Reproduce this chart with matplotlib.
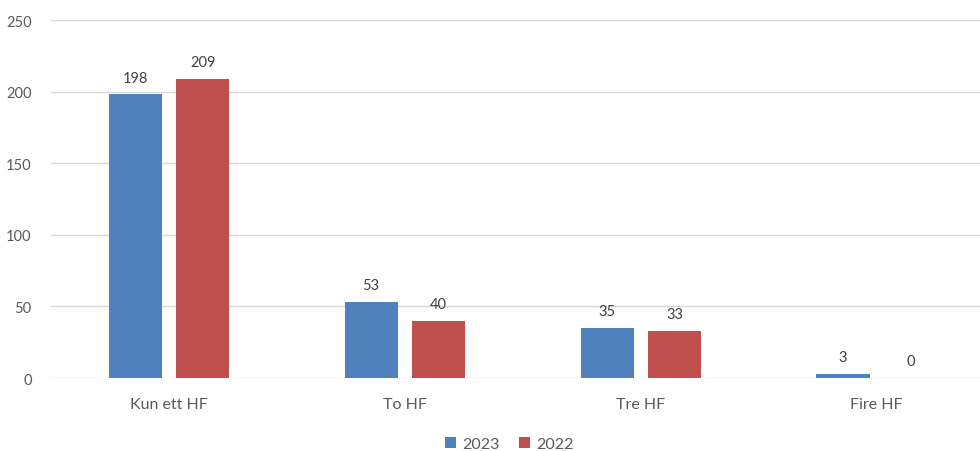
import numpy as np
import matplotlib
matplotlib.use("Agg")
import matplotlib.pyplot as plt

categories = ["Kun ett HF", "To HF", "Tre HF", "Fire HF"]
vals_2023 = [198, 53, 35, 3]
vals_2022 = [209, 40, 33, 0]
series_names = ["2023", "2022"]
yticks = [0, 50, 100, 150, 200, 250]

blue = "#4F81BD"
red = "#C0504D"
txt = "#595959"

plt.rcParams["font.family"] = ["Lato", "DejaVu Sans"]

fig = plt.figure(figsize=(9.8, 4.52), dpi=100)
# plot area runs slightly past the right edge, like the cropped original
ax = fig.add_axes([0.052, 0.1615, 0.963, 0.792])

x = np.arange(len(categories))
w = 0.225
off = 0.143
b1 = ax.bar(x - off, vals_2023, w, color=blue, label=series_names[0], zorder=3)
b2 = ax.bar(x + off, vals_2022, w, color=red, label=series_names[1], zorder=3)

for bars, vals in ((b1, vals_2023), (b2, vals_2022)):
    for r, v in zip(bars, vals):
        ax.annotate(str(v), (r.get_x() + r.get_width() / 2, v), xytext=(0, 7),
                    textcoords="offset points", ha="center", va="bottom",
                    fontsize=10.5, color="#404040")

ax.set_xlim(-0.5, 3.5)
ax.set_ylim(0, 250)
ax.set_yticks(yticks)
ax.set_xticks(x)
ax.set_xticklabels(categories, fontsize=11.5, color=txt)
ax.tick_params(axis="y", labelsize=10.5, labelcolor=txt, length=0, pad=14)
ax.tick_params(axis="x", length=0, pad=14)
ax.grid(axis="y", color="#D9D9D9", linewidth=1, zorder=0)
for s in ax.spines.values():
    s.set_visible(False)

fig.legend(handles=[b1, b2], loc="lower center", bbox_to_anchor=(0.52, -0.032), ncol=2,
           frameon=False, fontsize=11.5, handlelength=0.7, handleheight=0.7,
           columnspacing=1.2, handletextpad=0.4, labelcolor=txt)

plt.savefig("out.png", dpi=100)
